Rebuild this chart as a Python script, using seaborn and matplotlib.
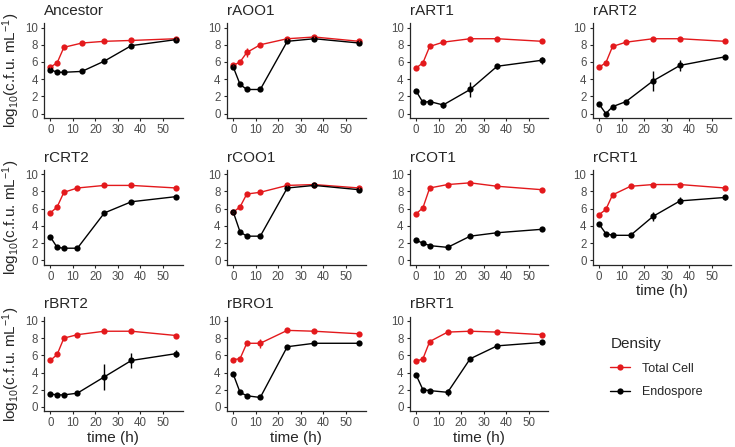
import seaborn as sns
import matplotlib.pyplot as plt
import pandas as pd
import numpy as np
from matplotlib.lines import Line2D

# strains (panel order) and sampling times
strains = ['Ancestor', 'rAOO1', 'rART1', 'rART2', 'rCRT2', 'rCOO1',
           'rCOT1', 'rCRT1', 'rBRT2', 'rBRO1', 'rBRT1']
t_a = [0, 3, 6, 12, 24, 36, 56]
t_b = [0, 3, 6, 14, 24, 36, 56]
times = {'Ancestor': t_b, 'rAOO1': t_a, 'rART1': t_a, 'rART2': t_a,
         'rCRT2': t_a, 'rCOO1': t_a, 'rCOT1': t_b, 'rCRT1': t_b,
         'rBRT2': t_a, 'rBRO1': t_a, 'rBRT1': t_b}

# log10 densities
total_cell = {
    'Ancestor': [5.4, 5.9, 7.7, 8.2, 8.4, 8.5, 8.7],
    'rAOO1':    [5.6, 6.0, 7.1, 8.0, 8.7, 8.9, 8.4],
    'rART1':    [5.3, 5.9, 7.8, 8.3, 8.7, 8.7, 8.4],
    'rART2':    [5.4, 5.9, 7.8, 8.3, 8.7, 8.7, 8.4],
    'rCRT2':    [5.5, 6.2, 7.9, 8.4, 8.7, 8.7, 8.4],
    'rCOO1':    [5.6, 6.2, 7.7, 7.9, 8.7, 8.8, 8.4],
    'rCOT1':    [5.4, 6.1, 8.4, 8.8, 9.0, 8.6, 8.2],
    'rCRT1':    [5.3, 5.9, 7.6, 8.6, 8.8, 8.8, 8.4],
    'rBRT2':    [5.4, 6.1, 8.0, 8.4, 8.8, 8.8, 8.3],
    'rBRO1':    [5.5, 5.6, 7.4, 7.4, 8.9, 8.8, 8.5],
    'rBRT1':    [5.3, 5.6, 7.6, 8.7, 8.8, 8.7, 8.4],
}
total_sd = {
    'Ancestor': [0.1, 0.1, 0.1, 0.1, 0.1, 0.1, 0.1],
    'rAOO1':    [0.1, 0.15, 0.5, 0.1, 0.1, 0.1, 0.1],
    'rART1':    [0.1, 0.1, 0.1, 0.1, 0.1, 0.1, 0.1],
    'rART2':    [0.1, 0.1, 0.1, 0.1, 0.1, 0.1, 0.1],
    'rCRT2':    [0.1, 0.1, 0.1, 0.1, 0.1, 0.1, 0.1],
    'rCOO1':    [0.1, 0.1, 0.1, 0.1, 0.1, 0.1, 0.1],
    'rCOT1':    [0.1, 0.1, 0.1, 0.1, 0.1, 0.1, 0.1],
    'rCRT1':    [0.1, 0.1, 0.1, 0.1, 0.1, 0.1, 0.1],
    'rBRT2':    [0.1, 0.1, 0.1, 0.1, 0.1, 0.1, 0.1],
    'rBRO1':    [0.1, 0.1, 0.1, 0.5, 0.1, 0.1, 0.1],
    'rBRT1':    [0.1, 0.1, 0.1, 0.1, 0.1, 0.1, 0.1],
}
endospore = {
    'Ancestor': [5.1, 4.8, 4.8, 4.9, 6.1, 7.9, 8.6],
    'rAOO1':    [5.4, 3.4, 2.8, 2.8, 8.4, 8.7, 8.2],
    'rART1':    [2.6, 1.3, 1.4, 1.0, 2.8, 5.5, 6.2],
    'rART2':    [1.1, 0.0, 0.8, 1.4, 3.8, 5.6, 6.6],
    'rCRT2':    [2.7, 1.5, 1.4, 1.4, 5.5, 6.8, 7.4],
    'rCOO1':    [5.6, 3.3, 2.8, 2.8, 8.4, 8.7, 8.2],
    'rCOT1':    [2.3, 2.0, 1.7, 1.5, 2.8, 3.2, 3.6],
    'rCRT1':    [4.2, 3.1, 2.9, 2.9, 5.1, 6.9, 7.3],
    'rBRT2':    [1.5, 1.4, 1.4, 1.6, 3.5, 5.4, 6.2],
    'rBRO1':    [3.8, 1.7, 1.3, 1.1, 7.0, 7.4, 7.4],
    'rBRT1':    [3.7, 2.0, 1.9, 1.7, 5.6, 7.1, 7.5],
}
endospore_sd = {
    'Ancestor': [0.1, 0.1, 0.1, 0.1, 0.1, 0.1, 0.1],
    'rAOO1':    [0.1, 0.1, 0.1, 0.1, 0.1, 0.1, 0.1],
    'rART1':    [0.1, 0.1, 0.1, 0.3, 0.9, 0.3, 0.4],
    'rART2':    [0.1, 0.1, 0.1, 0.1, 1.2, 0.6, 0.1],
    'rCRT2':    [0.1, 0.1, 0.1, 0.1, 0.2, 0.1, 0.1],
    'rCOO1':    [0.1, 0.1, 0.1, 0.1, 0.1, 0.1, 0.1],
    'rCOT1':    [0.1, 0.1, 0.1, 0.1, 0.1, 0.1, 0.1],
    'rCRT1':    [0.1, 0.1, 0.1, 0.1, 0.5, 0.4, 0.3],
    'rBRT2':    [0.1, 0.2, 0.1, 0.1, 1.5, 0.9, 0.4],
    'rBRO1':    [0.1, 0.1, 0.1, 0.1, 0.1, 0.1, 0.1],
    'rBRT1':    [0.1, 0.1, 0.1, 0.4, 0.1, 0.1, 0.1],
}

# long table
rows = []
for s in strains:
    for i, t in enumerate(times[s]):
        rows.append((s, t, 'Total Cell', total_cell[s][i], total_sd[s][i]))
        rows.append((s, t, 'Endospore', endospore[s][i], endospore_sd[s][i]))
df = pd.DataFrame(rows, columns=['strain', 'time', 'Density', 'value', 'sd'])

palette = {'Total Cell': '#e3191c', 'Endospore': 'black'}
hue_order = ['Total Cell', 'Endospore']

sns.set_theme(style='ticks')
plt.rcParams['font.family'] = ['Liberation Sans', 'DejaVu Sans']
plt.rcParams['mathtext.fontset'] = 'custom'
plt.rcParams['mathtext.rm'] = 'Liberation Sans'
plt.rcParams['mathtext.it'] = 'Liberation Sans:italic'

fig, axes = plt.subplots(3, 4, figsize=(7.35, 4.47), dpi=100)
plt.subplots_adjust(left=0.06, right=0.995, top=0.948, bottom=0.08,
                    wspace=0.32, hspace=0.55)

xlab_panels = ['rCRT1', 'rBRT2', 'rBRO1', 'rBRT1']
for k, s in enumerate(strains):
    ax = axes.flat[k]
    sub = df[df['strain'] == s]
    sns.lineplot(data=sub, x='time', y='value', hue='Density', hue_order=hue_order,
                 palette=palette, marker='o', markersize=4.5, markeredgewidth=0,
                 linewidth=1.0, errorbar=None, legend=False, ax=ax)
    for d in hue_order:
        dd = sub[sub['Density'] == d]
        ax.errorbar(dd['time'], dd['value'], yerr=dd['sd'], fmt='none',
                    ecolor=palette[d], elinewidth=1.0, capsize=0)
    ax.set_xlim(-2.8, 58.8)
    ax.set_ylim(-0.5, 10.5)
    ax.set_xticks([0, 10, 20, 30, 40, 50])
    ax.set_yticks([0, 2, 4, 6, 8, 10])
    ax.tick_params(labelsize=8.3, labelcolor='#4d4d4d', length=2.5, width=0.8, pad=2)
    for sp in ['left', 'bottom']:
        ax.spines[sp].set_linewidth(0.9)
    sns.despine(ax=ax)
    ax.set_title(s, loc='left', fontsize=11, pad=6, x=0.0)
    if k % 4 == 0:
        ax.set_ylabel(r'log$_{10}$(c.f.u. mL$^{-1}$)', fontsize=11, labelpad=2)
    else:
        ax.set_ylabel('')
    if s in xlab_panels:
        ax.set_xlabel('time (h)', fontsize=11, labelpad=1)
    else:
        ax.set_xlabel('')

axes[2, 3].axis('off')

handles = [Line2D([0], [0], color=palette[d], marker='o', markersize=4.5,
                  markeredgewidth=0, linewidth=1.0) for d in hue_order]
fig.legend(handles, hue_order, title='Density', loc='upper left',
           bbox_to_anchor=(0.815, 0.272), frameon=False, fontsize=9,
           title_fontsize=11, alignment='left', handlelength=1.6,
           labelspacing=0.95, handletextpad=0.9)

plt.savefig('out.png', dpi=100)
